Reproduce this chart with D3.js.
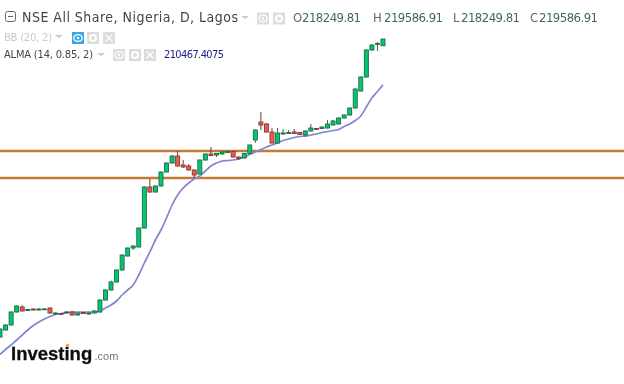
<!DOCTYPE html>
<html><head><meta charset="utf-8">
<style>html,body{margin:0;padding:0;background:#fff}svg{display:block}</style>
<script src="https://cdn.jsdelivr.net/npm/d3@7/dist/d3.min.js"></script></head>
<body><div id="c"></div>
<script>
const opens=[160000,161400,162400,165000,166000,165300,165600,165400,165500,165800,164700,164700,164800,165000,164400,164900,164600,164800,165000,167400,169400,171000,173400,176200,177800,178000,181800,190000,189000,190200,193000,194800,196200,194400,194200,193400,192600,195400,196600,196400,196600,196900,197100,196000,195800,196700,199400,203000,202600,201000,198800,200600,200700,201000,200900,200400,201200,201700,201700,201800,202400,202600,203800,204400,205800,209200,212000,217400,218600,218249.81];
const highs=[161700,162500,165100,166300,166400,165600,165700,165800,165800,165900,164900,164800,165200,165100,164900,165000,164900,165400,167500,169500,171300,173500,176500,177900,178300,181900,190100,191600,190300,193100,194900,196400,197200,195400,194600,193500,195500,196700,198000,196800,197200,197200,197200,196100,196800,198500,201500,205000,202800,201800,201800,201600,201400,201600,201000,201300,202600,201800,202100,203400,203400,203900,204500,205900,209700,212100,217500,218600,219000,219586.91];
const lows=[159900,161300,162300,164900,165100,165200,165300,165300,165400,164700,164400,164400,164700,164300,164300,164600,164500,164700,164900,167300,169300,170900,173300,176100,177400,177900,181700,188900,188900,190100,192900,194700,194100,193800,193300,191800,192500,195300,196200,196000,196500,196800,195900,195400,195700,196600,198800,201400,200900,198700,198700,200500,200600,200600,200400,200000,201100,201400,201600,201700,202300,202500,203700,204300,205700,209100,211900,217300,217200,218249.81];
const closes=[161600,162400,165000,166200,165200,165500,165400,165600,165600,164800,164800,164600,165000,164400,164800,164700,164800,165200,167400,169400,171000,173400,176400,177800,178200,181800,190000,189000,190200,193000,194800,196200,194200,194000,193400,192400,195400,196600,196300,196700,197000,197100,196000,195700,196700,198400,201400,202400,201000,198800,200800,200800,200900,200700,200500,201200,201800,201600,202000,202600,203200,203800,204400,205800,209600,212000,217400,218400,218700,219586.91];
const alma=[156500,157500,158400,159400,160400,161400,162300,163000,163600,164100,164500,164700,164900,165000,165000,165000,165000,165000,165200,165800,166400,167200,168400,169400,170400,172400,174800,177000,179400,181400,183800,186400,188400,189800,190800,191600,192200,193200,194200,194800,195200,195300,195400,195600,196000,196500,197000,197500,198000,198400,198800,199300,199600,199900,200100,200200,200400,200600,200900,201100,201300,201500,202100,202600,203300,204200,206000,207800,209100,210467.41];
const levels=[197200,191800];
const title="NSE All Share, Nigeria, D, Lagos";
const bbLabel="BB (20, 2)";
const almaLabel="ALMA (14, 0.85, 2)";
const almaValue="210467.4075";
const ohlcLabels=["O","H","L","C"];
const ohlcValues=["218249.81","219586.91","218249.81","219586.91"];

const W=624,H=384;
const svg=d3.select("#c").append("svg").attr("width",W).attr("height",H);
const font="'DejaVu Sans Condensed','DejaVu Sans',sans-serif";
const x=d3.scaleLinear().domain([0,69]).range([0,383]);
const y=d3.scaleLinear().domain([150600,227400]).range([384,0]);

const defs=svg.append("defs");
defs.append("filter").attr("id","soft").attr("x","-5%").attr("y","-5%").attr("width","110%").attr("height","110%")
  .append("feGaussianBlur").attr("stdDeviation",0.5);
defs.append("filter").attr("id","softer").attr("x","-5%").attr("y","-20%").attr("width","110%").attr("height","140%")
  .append("feGaussianBlur").attr("stdDeviation",0.35);
const plot=svg.append("g").attr("filter","url(#soft)");

plot.selectAll("line.lv").data(levels).join("line").attr("class","lv")
  .attr("x1",0).attr("x2",W).attr("y1",d=>y(d)).attr("y2",d=>y(d))
  .attr("stroke","#c37a35").attr("stroke-width",2.6);

const idx=d3.range(closes.length);
const col=i=>closes[i]>=opens[i];

plot.append("path").datum(idx)
  .attr("fill","none").attr("stroke","#8583d2").attr("stroke-width",1.7)
  .attr("d",d3.line().x(i=>x(i)).y(i=>y(alma[i])).curve(d3.curveMonotoneX));

plot.selectAll("line.w").data(idx).join("line").attr("class","w")
  .attr("x1",i=>x(i)).attr("x2",i=>x(i)).attr("y1",i=>y(highs[i])).attr("y2",i=>y(lows[i]))
  .attr("stroke",i=>col(i)?"#2f6f50":"#6d3b36").attr("stroke-width",1);
plot.selectAll("rect.b").data(idx).join("rect").attr("class","b")
  .attr("x",i=>x(i)-2).attr("width",4)
  .attr("y",i=>y(Math.max(opens[i],closes[i])))
  .attr("height",i=>Math.max(0.8,Math.abs(y(opens[i])-y(closes[i]))))
  .attr("fill",i=>col(i)?"#05c76f":"#f4584e")
  .attr("stroke",i=>col(i)?"#1c6a47":"#7d3a34").attr("stroke-width",0.9);

// legend
const t=svg.append("g").attr("font-family",font).attr("filter","url(#softer)");
t.append("rect").attr("x",5.5).attr("y",11.5).attr("width",10).attr("height",10).attr("rx",2).attr("fill","#fff").attr("stroke","#666");
t.append("line").attr("x1",8).attr("x2",13).attr("y1",16.5).attr("y2",16.5).attr("stroke","#666");
t.append("text").attr("x",22).attr("y",22).attr("font-size",14).attr("fill","#444")
  .attr("textLength",216).attr("lengthAdjust","spacing").text(title);

function caret(cx,cy){t.append("path").attr("d",`M${cx-4},${cy}h8l-4,3z`).attr("fill","#ccc");}
caret(245,16);caret(59,35);caret(101,53);

function box(bx,by,kind,active){
  const g=t.append("g").attr("transform",`translate(${bx},${by})`);
  g.append("rect").attr("width",12).attr("height",12).attr("fill",active?"#3ba6e0":"#dcdcdc");
  if(kind==="eye"){
    g.append("ellipse").attr("cx",6).attr("cy",6).attr("rx",4.2).attr("ry",3.4).attr("fill","none").attr("stroke","#fff").attr("stroke-width",1.3);
    g.append("circle").attr("cx",6).attr("cy",6).attr("r",1.3).attr("fill","#fff");
  } else if(kind==="gear"){
    g.append("circle").attr("cx",6).attr("cy",6).attr("r",3).attr("fill","none").attr("stroke","#fff").attr("stroke-width",2);
  } else {
    g.append("path").attr("d","M2.5,2.5L9.5,9.5M9.5,2.5L2.5,9.5").attr("stroke","#fff").attr("stroke-width",1.3);
  }
}
box(257,12.5,"eye");box(273,12.5,"gear");
box(72,32,"eye",true);box(87,32,"gear");box(103,32,"x");
box(113,49,"eye");box(129,49,"gear");box(144,49,"x");

t.append("text").attr("x",4).attr("y",40.5).attr("font-size",11).attr("fill","#c9c9c9")
  .attr("textLength",48).attr("lengthAdjust","spacing").text(bbLabel);
t.append("text").attr("x",4).attr("y",58).attr("font-size",11).attr("fill","#444")
  .attr("textLength",89).attr("lengthAdjust","spacing").text(almaLabel);
t.append("text").attr("x",164).attr("y",58).attr("font-size",11).attr("fill","#23238e")
  .attr("textLength",60).attr("lengthAdjust","spacing").text(almaValue);

const lx=[293,373,453,530], vx=[302,384,461,539];
ohlcLabels.forEach((s,i)=>{
  t.append("text").attr("x",lx[i]).attr("y",22).attr("font-size",13).attr("fill","#666").text(s);
  t.append("text").attr("x",vx[i]).attr("y",22).attr("font-size",13).attr("fill","#3f6b57")
    .attr("textLength",59).attr("lengthAdjust","spacing").text(ohlcValues[i]);
});

// logo
const logo=svg.append("g").attr("font-family","'Liberation Sans',Arial,sans-serif").attr("filter","url(#softer)");
logo.append("text").attr("x",11).attr("y",360).attr("font-size",18.5).attr("font-weight",700).attr("fill","#111").attr("stroke","#111").attr("stroke-width",0.3).text("Investing");
logo.append("text").attr("x",94.5).attr("y",360).attr("font-size",11).attr("fill","#777").text(".com");
logo.append("circle").attr("cx",67.5).attr("cy",345.5).attr("r",1.8).attr("fill","#f6a623");
</script></body></html>
